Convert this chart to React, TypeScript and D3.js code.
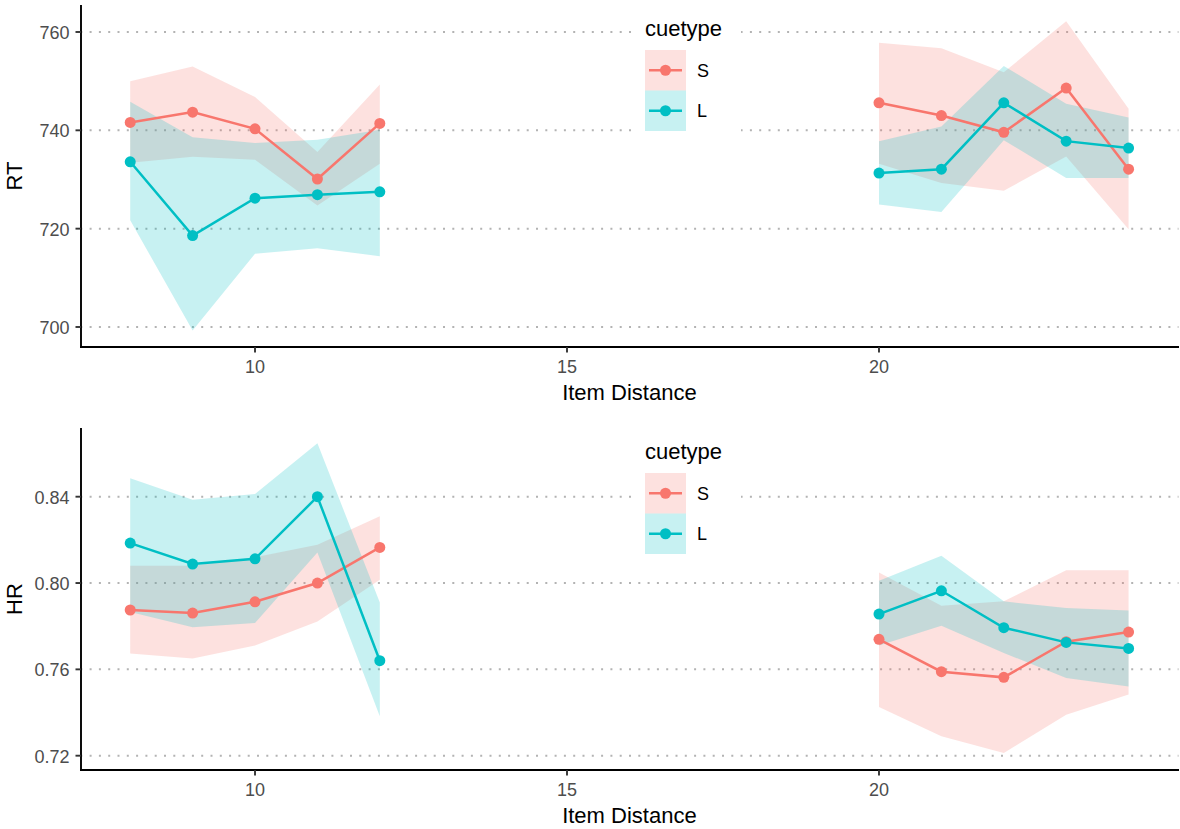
import React from 'react';
import * as d3 from 'd3';

// Item distances (two separate runs: near and far items)
const DISTANCE = [8, 9, 10, 11, 12, 20, 21, 22, 23, 24];

// Reaction time, cue type S
const RT_S_MEAN = [741.6, 743.7, 740.3, 730.1, 741.4, 745.6, 743.0, 739.6, 748.6, 732.1];
const RT_S_LOW = [733.4, 734.6, 734.0, 724.7, 733.2, 733.2, 729.3, 727.7, 734.7, 719.9];
const RT_S_HIGH = [750.0, 753.0, 746.8, 735.6, 749.3, 757.8, 756.7, 751.8, 762.2, 744.4];

// Reaction time, cue type L
const RT_L_MEAN = [733.6, 718.6, 726.2, 726.9, 727.5, 731.3, 732.1, 745.6, 737.8, 736.4];
const RT_L_LOW = [721.7, 699.3, 714.9, 716.0, 714.4, 724.9, 723.4, 738.0, 730.3, 730.3];
const RT_L_HIGH = [745.8, 738.6, 737.4, 738.1, 740.1, 737.8, 740.8, 753.1, 745.4, 742.6];

// Hit rate, cue type S
const HR_S_MEAN = [0.7875, 0.7861, 0.7913, 0.8, 0.8165, 0.7739, 0.7589, 0.7563, 0.7728, 0.7773];
const HR_S_LOW = [0.7673, 0.765, 0.771, 0.7822, 0.8015, 0.7426, 0.729, 0.7213, 0.739, 0.7483];
const HR_S_HIGH = [0.808, 0.808, 0.812, 0.8177, 0.8309, 0.8049, 0.7895, 0.7915, 0.8059, 0.8059];

// Hit rate, cue type L
const HR_L_MEAN = [0.8185, 0.8088, 0.8112, 0.84, 0.764, 0.7856, 0.7964, 0.7793, 0.7725, 0.7697];
const HR_L_LOW = [0.7866, 0.7795, 0.7815, 0.8142, 0.7383, 0.771, 0.7802, 0.7676, 0.756, 0.7521];
const HR_L_HIGH = [0.8486, 0.8386, 0.8413, 0.8648, 0.791, 0.801, 0.8126, 0.7915, 0.7884, 0.7873];

const X_TICKS = [10, 15, 20];
const RT_TICKS = [700, 720, 740, 760];
const HR_TICKS = [0.72, 0.76, 0.8, 0.84];
const CUE_TYPES = ['S', 'L'];

const COLORS: Record<string, string> = { S: '#F8766D', L: '#00BFC4' };
const FONT = '"Liberation Sans", Arial, Helvetica, sans-serif';
const FILL_ALPHA = 0.22;

type Series = { cue: string; mean: number[]; low: number[]; high: number[] };

// Split indices into consecutive runs of distances (gap > 1 breaks the line)
function runs(xs: number[]): number[][] {
  const out: number[][] = [];
  let cur: number[] = [];
  xs.forEach((v, i) => {
    if (i > 0 && v - xs[i - 1] > 1) {
      out.push(cur);
      cur = [];
    }
    cur.push(i);
  });
  if (cur.length) out.push(cur);
  return out;
}

const SEGMENTS = runs(DISTANCE);

type PanelProps = {
  top: number;
  yDomain: [number, number];
  yTicks: number[];
  fmt: (v: number) => string;
  yLabel: string;
  series: Series[];
};

function Panel({ top, yDomain, yTicks, fmt, yLabel, series }: PanelProps) {
  const height = 342;
  const bottom = top + height;
  const left = 80.3;
  const right = 1178.5;
  const x = d3.scaleLinear().domain([7.2, 24.8]).range([left, right]);
  const y = d3.scaleLinear().domain(yDomain).range([bottom, top]);

  const area = d3
    .area<number>()
    .x((i) => x(DISTANCE[i]))
    .y0((i) => 0)
    .y1((i) => 0);

  const legendX = 645;
  const keyW = 41;
  const keyH = 40.5;
  const legendTop = top + 45;

  return (
    <g>
      {/* horizontal dotted grid */}
      {yTicks.map((t) => (
        <line
          key={'g' + t}
          x1={left}
          x2={right}
          y1={y(t)}
          y2={y(t)}
          stroke="#b3b3b3"
          strokeWidth={2}
          strokeDasharray="2,7.3"
        />
      ))}

      {/* confidence ribbons */}
      {series.map((s) =>
        SEGMENTS.map((seg, k) => {
          const a = d3
            .area<number>()
            .x((i) => x(DISTANCE[i]))
            .y0((i) => y(s.low[i]))
            .y1((i) => y(s.high[i]));
          return (
            <path
              key={'r' + s.cue + k}
              d={a(seg) || ''}
              fill={COLORS[s.cue]}
              fillOpacity={FILL_ALPHA}
              stroke="none"
            />
          );
        })
      )}

      {/* mean lines */}
      {series.map((s) =>
        SEGMENTS.map((seg, k) => {
          const l = d3
            .line<number>()
            .x((i) => x(DISTANCE[i]))
            .y((i) => y(s.mean[i]));
          return (
            <path
              key={'l' + s.cue + k}
              d={l(seg) || ''}
              fill="none"
              stroke={COLORS[s.cue]}
              strokeWidth={2.5}
            />
          );
        })
      )}

      {/* mean points */}
      {series.map((s) =>
        DISTANCE.map((d, i) => (
          <circle key={'p' + s.cue + i} cx={x(d)} cy={y(s.mean[i])} r={5.5} fill={COLORS[s.cue]} />
        ))
      )}

      {/* axes */}
      <line x1={81} x2={81} y1={top} y2={bottom + 1} stroke="#000" strokeWidth={1.9} />
      <line x1={80} x2={right + 0.5} y1={bottom} y2={bottom} stroke="#000" strokeWidth={1.9} />
      {yTicks.map((t) => (
        <g key={'yt' + t}>
          <line x1={75.5} x2={81} y1={y(t)} y2={y(t)} stroke="#333" strokeWidth={1.9} />
          <text
            x={69.5}
            y={y(t) + 7}
            textAnchor="end"
            fontSize={18}
            fill="#4d4d4d"
            fontFamily={FONT}
          >
            {fmt(t)}
          </text>
        </g>
      ))}
      {X_TICKS.map((t) => (
        <g key={'xt' + t}>
          <line x1={x(t)} x2={x(t)} y1={bottom} y2={bottom + 5.5} stroke="#333" strokeWidth={1.9} />
          <text
            x={x(t)}
            y={bottom + 26}
            textAnchor="middle"
            fontSize={18}
            fill="#4d4d4d"
            fontFamily={FONT}
          >
            {t}
          </text>
        </g>
      ))}
      <text
        x={(left + right) / 2}
        y={bottom + 53}
        textAnchor="middle"
        fontSize={22}
        fill="#000"
        fontFamily={FONT}
      >
        Item Distance
      </text>
      <text
        transform={`translate(22,${(top + bottom) / 2}) rotate(-90)`}
        textAnchor="middle"
        fontSize={22}
        fill="#000"
        fontFamily={FONT}
      >
        {yLabel}
      </text>

      {/* legend */}
      <rect x={634} y={top + 7} width={107} height={131} fill="#fff" />
      <text x={legendX} y={top + 31} fontSize={22} fill="#000" fontFamily={FONT}>
        cuetype
      </text>
      {CUE_TYPES.map((c, k) => {
        const ky = legendTop + k * keyH;
        const cy = ky + keyH / 2;
        return (
          <g key={'lg' + c}>
            <rect x={legendX} y={ky} width={keyW} height={keyH} fill={COLORS[c]} fillOpacity={FILL_ALPHA} />
            <line x1={legendX + 4} x2={legendX + keyW - 4} y1={cy} y2={cy} stroke={COLORS[c]} strokeWidth={2.5} />
            <circle cx={legendX + keyW / 2} cy={cy} r={5.5} fill={COLORS[c]} />
            <text x={legendX + 52} y={cy + 6.5} fontSize={18} fill="#000" fontFamily={FONT}>
              {c}
            </text>
          </g>
        );
      })}
    </g>
  );
}

export default function App() {
  const rtSeries: Series[] = [
    { cue: 'S', mean: RT_S_MEAN, low: RT_S_LOW, high: RT_S_HIGH },
    { cue: 'L', mean: RT_L_MEAN, low: RT_L_LOW, high: RT_L_HIGH },
  ];
  const hrSeries: Series[] = [
    { cue: 'S', mean: HR_S_MEAN, low: HR_S_LOW, high: HR_S_HIGH },
    { cue: 'L', mean: HR_L_MEAN, low: HR_L_LOW, high: HR_L_HIGH },
  ];
  return (
    <svg
      width={1180}
      height={829}
      style={{ position: 'absolute', left: 0, top: 0, background: '#fff' }}
    >
      <rect x={0} y={0} width={1180} height={829} fill="#fff" />
      <Panel
        top={5}
        yDomain={[695.93, 765.49]}
        yTicks={RT_TICKS}
        fmt={(v) => d3.format('d')(v)}
        yLabel="RT"
        series={rtSeries}
      />
      <Panel
        top={428}
        yDomain={[0.71337, 0.87183]}
        yTicks={HR_TICKS}
        fmt={(v) => d3.format('.2f')(v)}
        yLabel="HR"
        series={hrSeries}
      />
    </svg>
  );
}
